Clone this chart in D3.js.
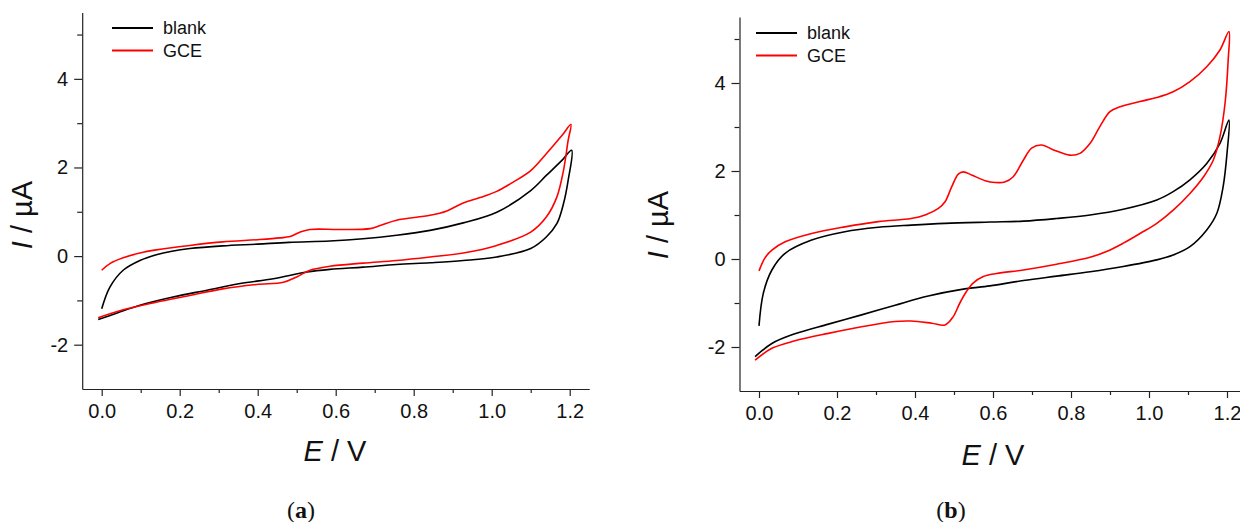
<!DOCTYPE html>
<html>
<head>
<meta charset="utf-8">
<script src="https://cdn.jsdelivr.net/npm/d3@7"></script>
<style>
  body { margin: 0; background: #fff; }
  svg { display: block; }
</style>
</head>
<body>
<svg id="chart" width="1240" height="522"></svg>
<script>
// ticks
const xMajor = [0, 0.2, 0.4, 0.6, 0.8, 1.0, 1.2];
const xMinor = [0.1, 0.3, 0.5, 0.7, 0.9, 1.1];
const yMajor = [-2, 0, 2, 4];
const yMinor = [-1, 1, 3, 5];
const seriesNames = ['blank', 'GCE'];
const seriesColors = ['#000000', '#ff0000'];

// (a) cyclic voltammograms, [E (V), I (uA)] forward then reverse
const blankA = [[0,-1.19],[0.021,-0.70],[0.055,-0.32],[0.098,-0.10],[0.14,0.03],[0.18,0.11],[0.226,0.17],[0.31,0.23],[0.40,0.27],[0.48,0.31],[0.585,0.34],[0.67,0.39],[0.756,0.47],[0.842,0.58],[0.927,0.75],[1.013,0.99],[1.10,1.48],[1.14,1.82],[1.18,2.16],[1.205,2.39],
  [1.196,1.71],[1.184,1.18],[1.167,0.73],[1.14,0.43],[1.10,0.17],[1.013,-0.02],[0.927,-0.10],[0.842,-0.15],[0.756,-0.19],[0.67,-0.25],[0.585,-0.30],[0.526,-0.36],[0.44,-0.51],[0.355,-0.62],[0.27,-0.77],[0.18,-0.93],[0.098,-1.11],[0.038,-1.29],[-0.009,-1.43]];
const gceA = [[0,-0.32],[0.021,-0.17],[0.055,-0.04],[0.098,0.07],[0.14,0.14],[0.226,0.24],[0.31,0.32],[0.40,0.37],[0.457,0.41],[0.483,0.44],[0.508,0.54],[0.534,0.60],[0.61,0.60],[0.688,0.62],[0.714,0.69],[0.756,0.81],[0.842,0.92],[0.885,1.02],[0.927,1.20],[0.97,1.32],[1.013,1.46],[1.055,1.67],[1.10,1.93],[1.14,2.31],[1.18,2.72],[1.203,2.97],
  [1.196,2.61],[1.184,1.93],[1.167,1.33],[1.14,0.88],[1.10,0.54],[1.013,0.24],[0.927,0.07],[0.842,-0.02],[0.756,-0.10],[0.67,-0.16],[0.585,-0.23],[0.534,-0.32],[0.50,-0.47],[0.466,-0.59],[0.397,-0.64],[0.31,-0.74],[0.226,-0.89],[0.14,-1.04],[0.055,-1.21],[-0.009,-1.39]];

// (b)
const blankB = [[0,-1.52],[0.011,-0.78],[0.033,-0.25],[0.067,0.13],[0.135,0.43],[0.22,0.62],[0.306,0.72],[0.39,0.77],[0.477,0.81],[0.592,0.84],[0.678,0.86],[0.763,0.92],[0.849,1.0],[0.934,1.13],[1.02,1.34],[1.062,1.53],[1.105,1.80],[1.148,2.17],[1.182,2.63],[1.205,3.16],
  [1.20,2.40],[1.19,1.64],[1.174,1.04],[1.148,0.66],[1.105,0.28],[1.062,0.09],[1.02,-0.02],[0.934,-0.17],[0.849,-0.29],[0.763,-0.39],[0.678,-0.49],[0.592,-0.61],[0.52,-0.69],[0.434,-0.84],[0.349,-1.05],[0.263,-1.27],[0.178,-1.48],[0.092,-1.70],[0.033,-1.92],[-0.01,-2.22]];
const gceB = [[0,-0.27],[0.015,0.02],[0.033,0.20],[0.067,0.39],[0.135,0.58],[0.22,0.73],[0.306,0.85],[0.39,0.92],[0.426,1.0],[0.46,1.15],[0.477,1.30],[0.494,1.64],[0.511,1.93],[0.524,1.98],[0.545,1.91],[0.58,1.78],[0.605,1.74],[0.63,1.75],[0.652,1.87],[0.678,2.25],[0.699,2.52],[0.725,2.59],[0.755,2.48],[0.797,2.36],[0.823,2.40],[0.849,2.63],[0.874,3.01],[0.90,3.35],[0.926,3.46],[0.977,3.58],[1.02,3.67],[1.062,3.80],[1.105,4.03],[1.148,4.37],[1.182,4.75],[1.205,5.17],
  [1.203,4.52],[1.195,3.54],[1.182,2.78],[1.165,2.25],[1.14,1.87],[1.105,1.49],[1.062,1.11],[1.02,0.81],[0.977,0.58],[0.934,0.36],[0.891,0.17],[0.849,0.04],[0.763,-0.12],[0.678,-0.25],[0.609,-0.33],[0.575,-0.40],[0.549,-0.55],[0.532,-0.74],[0.515,-1.0],[0.498,-1.31],[0.477,-1.50],[0.443,-1.46],[0.39,-1.41],[0.349,-1.42],[0.263,-1.54],[0.178,-1.69],[0.092,-1.86],[0.033,-2.03],[-0.01,-2.30]];

const svg = d3.select('#chart');
const FONT = '"Liberation Sans", Arial, sans-serif';

const panels = [
  {curves: [blankA, gceA], xr: [82.2, 589.2], yr: [389, 12.4], yLab: [32, 215], xLab: [335, 461], legend: [112, 28], cap: [301, 518], capText: 'a'},
  {curves: [blankB, gceB], xr: [739.5, 1246.5], yr: [391, 17], yLab: [668, 225], xLab: [993, 465], legend: [756, 33], cap: [951, 518], capText: 'b'}
];

panels.forEach(p => {
  const x = d3.scaleLinear().domain([-0.05, 1.25]).range(p.xr);
  const y = d3.scaleLinear().domain([-3, 5.5]).range(p.yr);
  const g = svg.append('g');

  // minor ticks
  g.append('g').attr('transform', `translate(0,${p.yr[0]})`)
    .call(d3.axisBottom(x).tickValues(xMinor).tickSize(4).tickFormat(''))
    .call(s => s.select('.domain').remove());
  g.append('g').attr('transform', `translate(${p.xr[0]},0)`)
    .call(d3.axisLeft(y).tickValues(yMinor).tickSize(5).tickFormat(''))
    .call(s => s.select('.domain').remove());

  // major axes
  const xa = g.append('g').attr('transform', `translate(0,${p.yr[0]})`)
    .call(d3.axisBottom(x).tickValues(xMajor).tickSize(7).tickSizeOuter(0).tickPadding(8).tickFormat(d => d.toFixed(1)));
  const ya = g.append('g').attr('transform', `translate(${p.xr[0]},0)`)
    .call(d3.axisLeft(y).tickValues(yMajor).tickSize(8).tickSizeOuter(0).tickPadding(6).tickFormat(d => String(d)));
  [xa, ya].forEach(a => {
    a.attr('font-family', FONT).attr('font-size', 20);
    a.selectAll('text').attr('fill', '#111');
  });
  g.selectAll('path.domain, line').attr('stroke', '#222').attr('stroke-width', 1.2);

  // curves
  const line = d3.line().x(d => x(d[0])).y(d => y(d[1])).curve(d3.curveCatmullRom.alpha(0.5));
  p.curves.forEach((c, i) => {
    g.append('path').datum(c)
      .attr('fill', 'none')
      .attr('stroke', seriesColors[i])
      .attr('stroke-width', 1.6)
      .attr('stroke-linejoin', 'round')
      .attr('d', line);
  });

  // legend
  seriesNames.forEach((name, i) => {
    const ly = p.legend[1] + i * 22.5;
    g.append('line').attr('x1', p.legend[0]).attr('x2', p.legend[0] + 41)
      .attr('y1', ly).attr('y2', ly)
      .attr('stroke', seriesColors[i]).attr('stroke-width', 2);
    g.append('text').attr('x', p.legend[0] + 51).attr('y', ly).attr('dy', '0.36em')
      .attr('font-family', FONT).attr('font-size', 18).attr('fill', '#111').text(name);
  });

  // axis titles
  const yt = g.append('text')
    .attr('transform', `translate(${p.yLab[0]},${p.yLab[1]}) rotate(-90)`)
    .attr('text-anchor', 'middle').attr('font-family', FONT).attr('font-size', 29).attr('fill', '#111');
  yt.append('tspan').attr('font-style', 'italic').text('I');
  yt.append('tspan').text(' / \u00b5A');
  const xt = g.append('text').attr('x', p.xLab[0]).attr('y', p.xLab[1])
    .attr('text-anchor', 'middle').attr('font-family', FONT).attr('font-size', 29).attr('fill', '#111');
  xt.append('tspan').attr('font-style', 'italic').text('E');
  xt.append('tspan').text(' / V');

  // caption
  const ct = g.append('text').attr('x', p.cap[0]).attr('y', p.cap[1])
    .attr('text-anchor', 'middle').attr('font-family', '"Liberation Serif", "Times New Roman", serif')
    .attr('font-size', 24).attr('fill', '#111');
  ct.append('tspan').text('(');
  ct.append('tspan').attr('font-weight', 'bold').text(p.capText);
  ct.append('tspan').text(')');
});
</script>
</body>
</html>
